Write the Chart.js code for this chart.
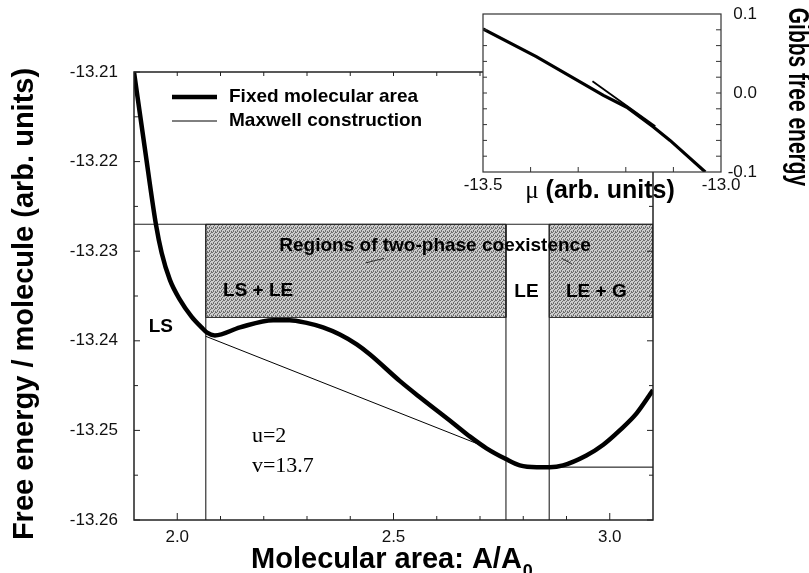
<!DOCTYPE html>
<html>
<head>
<meta charset="utf-8">
<script src="https://cdn.jsdelivr.net/npm/chart.js@4"></script>
<style>
  html, body { margin: 0; padding: 0; background: #fff; }
  #wrap { position: relative; width: 809px; height: 573px; overflow: hidden; }
  #main { position: absolute; left: 0; top: 0; }
  #inset { position: absolute; left: 440px; top: 0; }
</style>
</head>
<body>
<div id="wrap">
  <canvas id="main" width="809" height="573"></canvas>
  <canvas id="inset" width="369" height="210"></canvas>
</div>
<script>
const SANS = '"Liberation Sans", Arial, Helvetica, sans-serif';
const SERIF = '"Liberation Serif", "Times New Roman", serif';

// free energy per molecule along the fixed-area isotherm
const area = [1.900, 1.925, 1.951, 1.964, 1.983, 2.006, 2.033, 2.056, 2.069, 2.087,
              2.145, 2.222, 2.260, 2.299, 2.337, 2.376, 2.415, 2.445, 2.515, 2.561,
              2.638, 2.677, 2.715, 2.760, 2.792, 2.831, 2.861, 2.892, 2.946, 2.985,
              3.023, 3.062, 3.100];
const freeEnergy = [-13.2100, -13.2185, -13.2271, -13.2302, -13.2332, -13.2354, -13.2373, -13.2385, -13.2391, -13.2394,
                    -13.2385, -13.2377, -13.2377, -13.2380, -13.2385, -13.2393, -13.2404, -13.2415, -13.2445, -13.2463,
                    -13.2492, -13.2507, -13.2520, -13.2532, -13.2539, -13.2541, -13.2541, -13.2539, -13.2528, -13.2516,
                    -13.2500, -13.2481, -13.2455];

// Maxwell construction: common tangent from LS to LE, flat from LE to G
const tangentArea = [2.066, 2.705];
const tangentEnergy = [-13.2395, -13.2517];
const flatArea = [2.86, 3.1];
const flatEnergy = [-13.2541, -13.2541];

// phase boundaries and the band marking two-phase coexistence
const boundaries = [2.066, 2.76, 2.86];
const bandTop = -13.227;
const bandBottom = -13.2374;
const coexistence = [[2.066, 2.76], [2.86, 3.1]];

const xMin = 1.9, xMax = 3.1;
const yMin = -13.26, yMax = -13.21;
const xTicks = [2.0, 2.5, 3.0];
const yTicks = [-13.26, -13.25, -13.24, -13.23, -13.22, -13.21];

const xTitle = 'Molecular area: A/A', xTitleSub = '0';
const yTitle = 'Free energy / molecule (arb. units)';
const legendItems = [['Fixed molecular area', 4.5], ['Maxwell construction', 1]];

// labels placed in data coordinates
const notes = [
  { text: 'Regions of two-phase coexistence', x: 2.596, y: -13.2300 },
  { text: 'LS + LE', x: 2.187, y: -13.2350 },
  { text: 'LE', x: 2.8075, y: -13.2351 },
  { text: 'LE + G', x: 2.969, y: -13.2351 },
  { text: 'LS', x: 1.962, y: -13.2390 }
];
const params = [
  { text: 'u=2', x: 2.1726, y: -13.2513 },
  { text: 'v=13.7', x: 2.1726, y: -13.2546 }
];
const pointers = [[2.436, -13.2313, 2.478, -13.2308], [2.889, -13.2308, 2.912, -13.2314]];

// inset: Gibbs free energy against chemical potential
const mu = [-13.500, -13.388, -13.247, -13.198, -13.142, -13.107, -13.033];
const gibbs = [0.081, 0.046, -0.003, -0.018, -0.043, -0.060, -0.100];
const muBranch = [-13.270, -13.138];
const gibbsBranch = [0.015, -0.042];
const muTicks = [-13.5, -13.0];
const gibbsTicks = [-0.1, 0.0, 0.1];

const pts = (xs, ys) => xs.map((x, i) => ({ x, y: ys[i] }));

function stipple() {
  const tile = document.createElement('canvas');
  tile.width = 4; tile.height = 4;
  const c = tile.getContext('2d');
  c.fillStyle = '#cccccc';
  c.fillRect(0, 0, 4, 4);
  c.fillStyle = '#6e6e6e';
  [[0, 0], [2, 1], [1, 2], [3, 3], [3, 0], [1, 3]].forEach(([x, y]) => c.fillRect(x, y, 1, 1));
  return c.createPattern(tile, 'repeat');
}
const grey = stipple();

const line = (data, width, color) => ({
  data, showLine: true, borderColor: color || '#000', borderWidth: width,
  pointRadius: 0, fill: false
});

const datasets = [
  Object.assign(line(pts(area, freeEnergy), 4.5), { cubicInterpolationMode: 'monotone' }),
  line(pts(tangentArea, tangentEnergy), 1),
  line(pts(flatArea, flatEnergy), 1),
  line([{ x: xMin, y: bandTop }, { x: xMax, y: bandTop }], 1.1, '#222'),
  ...boundaries.map(b => line([{ x: b, y: bandTop }, { x: b, y: yMin }], 1.1, '#222')),
  ...coexistence.map(([a, b]) => ({
    data: [{ x: a, y: bandTop }, { x: b, y: bandTop }, { x: b, y: bandBottom }, { x: a, y: bandBottom }, { x: a, y: bandTop }],
    showLine: true, fill: 'shape', backgroundColor: grey,
    borderColor: '#333', borderWidth: 1, pointRadius: 0
  }))
];

const mainDecor = {
  id: 'mainDecor',
  afterDatasetsDraw(chart) {
    const { ctx, chartArea: a, scales: { x, y } } = chart;
    ctx.save();
    ctx.strokeStyle = '#222';
    ctx.lineWidth = 1.5;
    ctx.strokeRect(a.left, a.top, a.right - a.left, a.bottom - a.top);

    // inward tick marks
    ctx.lineWidth = 1;
    ctx.beginPath();
    for (let i = 0; i <= 10; i++) {
      const px = x.getPixelForValue(2.0 + i * 0.1);
      const major = i % 5 === 0;
      ctx.moveTo(px, a.bottom); ctx.lineTo(px, a.bottom - (major ? 7 : 4));
      ctx.moveTo(px, a.top); ctx.lineTo(px, a.top + 4);
    }
    for (let i = 0; i <= 10; i++) {
      const py = y.getPixelForValue(yMin + i * 0.005);
      const len = i % 2 === 0 ? 6 : 4;
      ctx.moveTo(a.left, py); ctx.lineTo(a.left + len, py);
      ctx.moveTo(a.right, py); ctx.lineTo(a.right - len, py);
    }
    ctx.stroke();

    // pointer strokes from the coexistence label
    ctx.strokeStyle = '#333';
    ctx.beginPath();
    pointers.forEach(([x1, y1, x2, y2]) => {
      ctx.moveTo(x.getPixelForValue(x1), y.getPixelForValue(y1));
      ctx.lineTo(x.getPixelForValue(x2), y.getPixelForValue(y2));
    });
    ctx.stroke();

    ctx.fillStyle = '#000';
    ctx.font = `bold 19px ${SANS}`;
    ctx.textAlign = 'center';
    ctx.textBaseline = 'alphabetic';
    notes.forEach(n => ctx.fillText(n.text, x.getPixelForValue(n.x), y.getPixelForValue(n.y)));

    ctx.font = `22px ${SERIF}`;
    ctx.textAlign = 'left';
    params.forEach(p => ctx.fillText(p.text, x.getPixelForValue(p.x), y.getPixelForValue(p.y)));

    // legend
    ctx.font = `bold 19px ${SANS}`;
    legendItems.forEach(([label, w], i) => {
      const ly = a.top + 25 + i * 24;
      ctx.lineWidth = w;
      ctx.strokeStyle = '#000';
      ctx.beginPath();
      ctx.moveTo(a.left + 38, ly); ctx.lineTo(a.left + 83, ly);
      ctx.stroke();
      ctx.fillText(label, a.left + 95, ly + 5);
    });

    // axis titles
    ctx.font = `bold 29px ${SANS}`;
    ctx.save();
    ctx.translate(33, (a.top + a.bottom) / 2 + 8);
    ctx.rotate(-Math.PI / 2);
    ctx.textAlign = 'center';
    ctx.fillText(yTitle, 0, 0);
    ctx.restore();

    const w1 = ctx.measureText(xTitle).width;
    ctx.font = `bold 18px ${SANS}`;
    const w2 = ctx.measureText(xTitleSub).width;
    const sx = (a.left + a.right) / 2 - 2 - (w1 + w2) / 2;
    ctx.textAlign = 'left';
    ctx.fillText(xTitleSub, sx + w1 + 1, 577);
    ctx.font = `bold 29px ${SANS}`;
    ctx.fillText(xTitle, sx, 568);
    ctx.restore();
  }
};

const tickFont = { family: SANS, size: 17 };

new Chart(document.getElementById('main'), {
  type: 'scatter',
  data: { datasets },
  options: {
    responsive: false,
    animation: false,
    layout: { padding: { left: 0, top: 72, right: 156, bottom: 0 } },
    plugins: { legend: { display: false }, tooltip: { enabled: false } },
    scales: {
      x: {
        type: 'linear', min: xMin, max: xMax,
        afterBuildTicks: s => { s.ticks = xTicks.map(v => ({ value: v })); },
        afterFit: s => { s.height = 53; },
        ticks: { font: tickFont, color: '#111', padding: 7, maxRotation: 0, callback: v => v.toFixed(1) },
        grid: { display: false, drawTicks: false },
        border: { display: false }
      },
      y: {
        type: 'linear', min: yMin, max: yMax,
        afterBuildTicks: s => { s.ticks = yTicks.map(v => ({ value: v })); },
        afterFit: s => { s.width = 134; },
        ticks: { font: tickFont, color: '#111', padding: 16, callback: v => v.toFixed(2) },
        grid: { display: false, drawTicks: false },
        border: { display: false }
      }
    }
  },
  plugins: [mainDecor]
});

const insetDecor = {
  id: 'insetDecor',
  beforeDatasetsDraw(chart) {
    const { ctx, chartArea: a } = chart;
    ctx.save();
    ctx.fillStyle = '#fff';
    ctx.fillRect(a.left, a.top, a.right - a.left, a.bottom - a.top);
    ctx.restore();
  },
  afterDatasetsDraw(chart) {
    const { ctx, chartArea: a, scales: { x, y } } = chart;
    ctx.save();
    ctx.strokeStyle = '#333';
    ctx.lineWidth = 1.2;
    ctx.strokeRect(a.left, a.top, a.right - a.left, a.bottom - a.top);
    ctx.lineWidth = 1;
    ctx.beginPath();
    for (let i = 1; i < 10; i++) {
      const py = y.getPixelForValue(-0.1 + i * 0.02);
      ctx.moveTo(a.left, py); ctx.lineTo(a.left + 4, py);
      ctx.moveTo(a.right, py); ctx.lineTo(a.right - 5, py);
    }
    for (let i = 1; i < 5; i++) {
      const px = x.getPixelForValue(-13.5 + i * 0.1);
      ctx.moveTo(px, a.bottom); ctx.lineTo(px, a.bottom - 5);
    }
    ctx.stroke();

    // right-hand value labels, right aligned
    ctx.fillStyle = '#111';
    ctx.font = `17px ${SANS}`;
    ctx.textAlign = 'right';
    ctx.textBaseline = 'middle';
    gibbsTicks.forEach(v => ctx.fillText(v.toFixed(1), a.right + 36, y.getPixelForValue(v)));

    ctx.fillStyle = '#000';
    ctx.textBaseline = 'alphabetic';
    ctx.font = `25px ${SERIF}`;
    const m = 'μ', rest = ' (arb. units)';
    const wm = ctx.measureText(m).width;
    ctx.font = `bold 25px ${SANS}`;
    const wr = ctx.measureText(rest).width;
    const sx = 160 - (wm + wr) / 2;
    ctx.textAlign = 'left';
    ctx.fillText(rest, sx + wm, 198);
    ctx.font = `25px ${SERIF}`;
    ctx.fillText(m, sx, 198);

    // vertical title, tall glyphs running off the right edge
    ctx.font = `bold 21px ${SANS}`;
    ctx.translate(349, 97);
    ctx.rotate(Math.PI / 2);
    ctx.scale(1, 1.4);
    ctx.textAlign = 'center';
    ctx.fillText('Gibbs free energy', 0, 0);
    ctx.restore();
  }
};

new Chart(document.getElementById('inset'), {
  type: 'scatter',
  data: {
    datasets: [
      line(pts(mu, gibbs), 3.2),
      line(pts(muBranch, gibbsBranch), 1.8)
    ]
  },
  options: {
    responsive: false,
    animation: false,
    layout: { padding: { left: 43, top: 14, right: 0, bottom: 0 } },
    plugins: { legend: { display: false }, tooltip: { enabled: false } },
    scales: {
      x: {
        type: 'linear', min: -13.5, max: -13.0,
        afterBuildTicks: s => { s.ticks = muTicks.map(v => ({ value: v })); },
        afterFit: s => { s.height = 38; },
        ticks: { font: tickFont, color: '#111', padding: 3, maxRotation: 0, callback: v => v.toFixed(1) },
        grid: { display: false, drawTicks: false },
        border: { display: false }
      },
      y: {
        type: 'linear', position: 'right', min: -0.1, max: 0.1,
        afterBuildTicks: s => { s.ticks = gibbsTicks.map(v => ({ value: v })); },
        afterFit: s => { s.width = 88; },
        ticks: { display: false },
        grid: { display: false, drawTicks: false },
        border: { display: false }
      }
    }
  },
  plugins: [insetDecor]
});
</script>
</body>
</html>
